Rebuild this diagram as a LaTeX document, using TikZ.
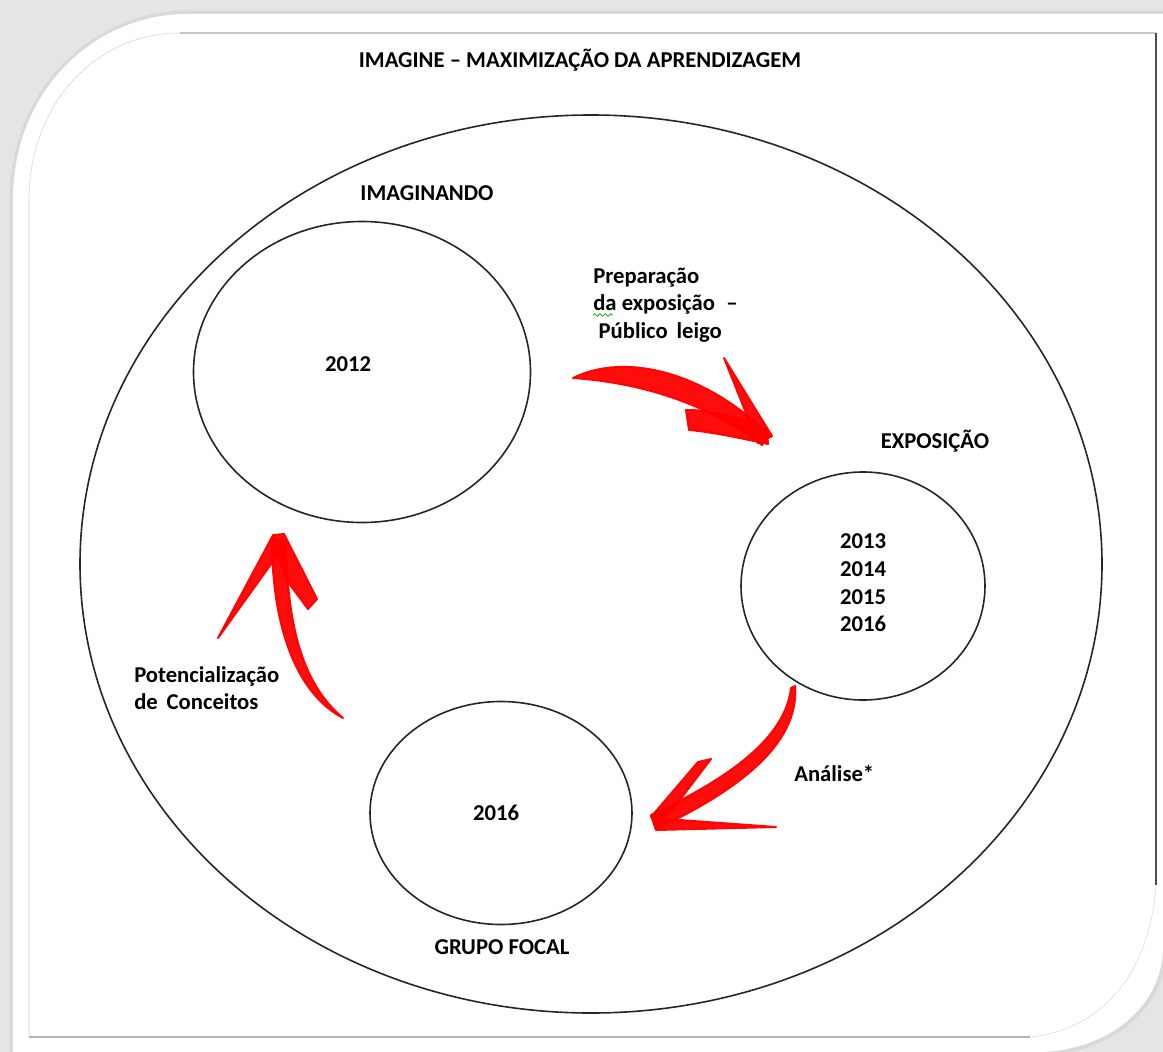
\documentclass[tikz,border=0pt]{standalone}
\usepackage{fontspec}
\setmainfont{Carlito}
\usetikzlibrary{shapes.geometric,decorations.pathmorphing}

\begin{document}
\begin{tikzpicture}
  [x=0.75pt, y=-0.75pt,
   ring/.style={ellipse, draw=black!85, line width=1.2pt, inner sep=0pt},
   lbl/.style={font=\fontsize{17}{20.7}\selectfont\bfseries, inner sep=0pt},
   brush/.style={fill=red, draw=red, line width=1.5pt, line join=round, opacity=0.95}]
  \useasboundingbox (0,0) rectangle (1163,1052);
  % page and shadowed card
  \fill[gray!20] (0,0) rectangle (1163,1052);
  \draw[gray!30, line width=5pt] (13,1052) -- (13,200) .. controls (13,90) and (95,14) .. (187,14) -- (1163,14);
  \draw[gray!30, line width=6pt] (1163,947) .. controls (1163,1005) and (1110,1050) .. (1040,1052);
  \fill[white] (13,1052) -- (13,200) .. controls (13,90) and (95,14) .. (187,14) -- (1163,14)
     -- (1163,947) .. controls (1163,1005) and (1110,1050) .. (1040,1052) -- cycle;
  % inner frame
  \draw[gray!35, line width=0.4pt] (29,1037) -- (29,200) .. controls (29,105) and (95,33) .. (180,33);
  \draw[gray!45, line width=1pt] (180,33) -- (1156,33);
  \draw[black!70, line width=1pt] (1156,33) -- (1156,885);
  \draw[gray!30, line width=0.4pt] (1156,885) .. controls (1150,975) and (1100,1030) .. (1030,1037);
  \draw[gray!60, line width=1.2pt] (29,1037) -- (1030,1037);

  % outer cycle and the three stages
  \node[ring, minimum width=1022pt*0.75, minimum height=898pt*0.75] (cycle) at (591,564) {};
  \node[ring, minimum width=337pt*0.75, minimum height=301pt*0.75] (imag) at (362,372) {};
  \node[ring, minimum width=244pt*0.75, minimum height=228pt*0.75] (expo) at (863,586) {};
  \node[ring, minimum width=262pt*0.75, minimum height=223pt*0.75] (grupo) at (501,813) {};

  % texts
  \node[lbl] (title) at (580,60) {IMAGINE – MAXIMIZAÇÃO DA APRENDIZAGEM};
  \node[lbl] (imagtitle) at (427,193) {IMAGINANDO};
  \node[lbl] (imagyear) at (348,364) {2012};
  \node[lbl] (expotitle) at (935,441) {EXPOSIÇÃO};
  \node[lbl, align=center] (expoyears) at (863,583) {2013\\2014\\2015\\2016};
  \node[lbl] (grupotitle) at (502,947) {GRUPO FOCAL};
  \node[lbl] (grupoyear) at (496,813) {2016};
  \node[lbl, align=left, anchor=west] (prep) at (593,305)
     {Preparação\\da exposição \;–\\\hspace*{4pt}Público \,leigo};
  \draw[green!60!black, line width=0.5pt, decorate,
        decoration={snake, amplitude=1pt, segment length=4pt}] (593,315) -- (613,315);
  \node[lbl, anchor=west] (analise) at (794,773) {Análise*};
  \node[lbl, align=left, anchor=west] (pot) at (134,688) {Potencialização\\de \,Conceitos};

  % red brush arrows
  % imaginando -> exposicao
  \fill[brush] (573,378) .. controls (625,352) and (705,372) .. (768,434)
     -- (762,445) .. controls (700,398) and (630,382) .. (573,378) -- cycle;
  \fill[brush] (724,358) -- (772,436) -- (758,443) -- cycle;
  \fill[brush] (686,410) .. controls (720,410) and (745,420) .. (767,430)
     -- (768,444) .. controls (740,438) and (712,432) .. (689,430) -- cycle;
  % exposicao -> grupo focal
  \fill[brush] (795,686) .. controls (800,745) and (735,792) .. (656,829)
     -- (651,815) .. controls (725,780) and (785,740) .. (791,688) -- cycle;
  \fill[brush] (698,762) -- (711,759) -- (663,822) -- (651,817) -- cycle;
  \fill[brush] (652,818) -- (776,827) -- (656,830) -- cycle;
  % grupo focal -> imaginando
  \fill[brush] (343,718) .. controls (300,682) and (287,620) .. (286,540)
     -- (272,540) .. controls (272,622) and (294,692) .. (343,718) -- cycle;
  \fill[brush] (218,638) -- (272,537) -- (284,546) -- cycle;
  \fill[brush] (273,535) -- (284,534) -- (317,599) -- (308,609) -- (285,578) -- cycle;
\end{tikzpicture}
\end{document}
